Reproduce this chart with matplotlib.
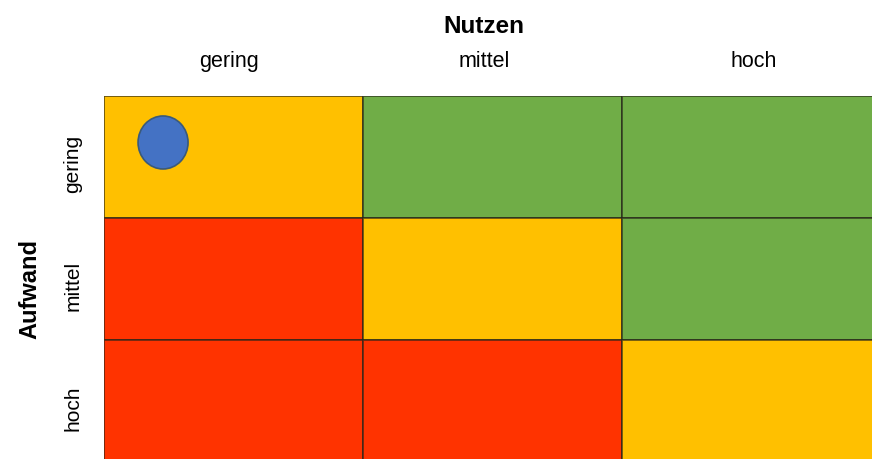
import matplotlib.pyplot as plt
from matplotlib.patches import Rectangle, Ellipse

plt.rcParams["font.family"] = ["Liberation Sans", "DejaVu Sans"]

# effort (rows) vs. benefit (columns)
nutzen = ["gering", "mittel", "hoch"]
aufwand = ["gering", "mittel", "hoch"]
# 0 = red, 1 = orange, 2 = green
rating = [
    [1, 2, 2],
    [0, 1, 2],
    [0, 0, 1],
]
farben = ["#FF3300", "#FFC000", "#70AD47"]

# one project marked in the matrix (column, row position)
projekt_x = [0.228]
projekt_y = [0.381]

fig = plt.figure(figsize=(8.72, 4.59), dpi=100)
ax = fig.add_axes([104 / 872, 0, 1 - 104 / 872, 1 - 96 / 459])
ax.set_xlim(0, 768 / 259)
ax.set_ylim(363 / 122, 0)
ax.axis("off")

for i, row in enumerate(rating):
    for j, level in enumerate(row):
        ax.add_patch(
            Rectangle(
                (j, i), 1, 1,
                facecolor=farben[level],
                edgecolor=(0.15, 0.15, 0.1, 0.75),
                linewidth=1.2,
            )
        )

for px, py in zip(projekt_x, projekt_y):
    ax.add_patch(
        Ellipse(
            (px, py), 50 / 259, 53 / 122,
            facecolor="#4472C4", edgecolor="#3A5A7A", linewidth=1.2, zorder=3,
        )
    )

# labels sit slightly off the cell centres
col_shift = [-0.017, -0.033, 0.01]
for j, label in enumerate(nutzen):
    ax.text(j + 0.5 + col_shift[j], -0.279, label, ha="center", va="center",
            fontsize=15.5, clip_on=False)
for i, label in enumerate(aufwand):
    ax.text(-0.12, i + 0.56, label, ha="center", va="center", rotation=90,
            fontsize=15, clip_on=False)

ax.text(1.467, -0.566, "Nutzen", ha="center", va="center",
        fontsize=17.5, fontweight="bold", clip_on=False)
ax.text(-0.286, 1.58, "Aufwand", ha="center", va="center", rotation=90,
        fontsize=17, fontweight="bold", clip_on=False)

fig.savefig("out.png", dpi=100)
